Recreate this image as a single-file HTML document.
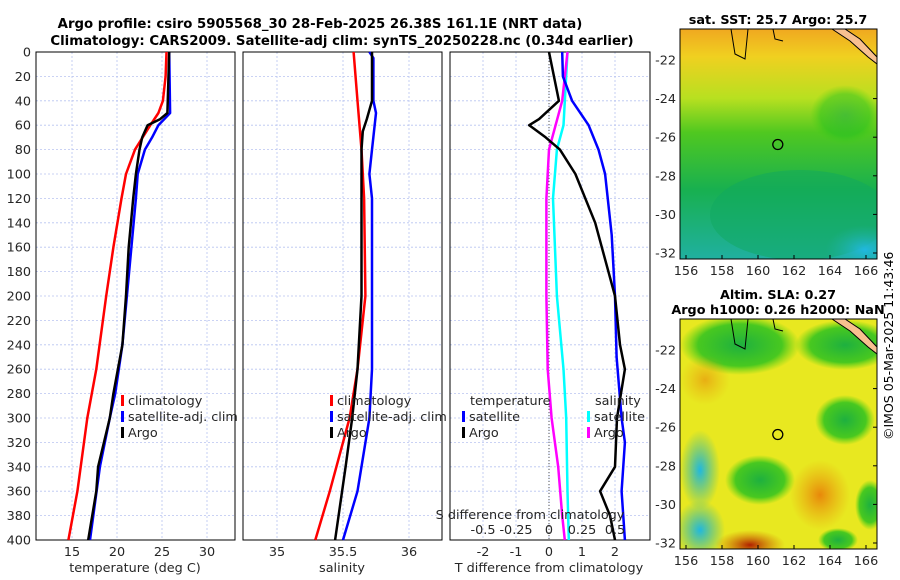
<!DOCTYPE html>
<html><head><meta charset="utf-8"><style>
body{margin:0;background:#fff;}
svg{display:block;font-family:"DejaVu Sans","Liberation Sans",sans-serif;}
</style></head><body>
<svg id="c" width="900" height="580" viewBox="0 0 900 580">
<defs>
<radialGradient id="gOr" cx="50%" cy="50%" r="50%"><stop offset="0" stop-color="#e8880a"/><stop offset="1" stop-color="#e8a010" stop-opacity="0"/></radialGradient>
<radialGradient id="gGr" cx="50%" cy="50%" r="50%"><stop offset="0" stop-color="#1eb040"/><stop offset="0.7" stop-color="#20c020" stop-opacity="0.8"/><stop offset="1" stop-color="#40d010" stop-opacity="0"/></radialGradient>
<radialGradient id="gBl" cx="50%" cy="50%" r="50%"><stop offset="0" stop-color="#20b8e0"/><stop offset="1" stop-color="#20b0a0" stop-opacity="0"/></radialGradient>
<radialGradient id="gRd" cx="50%" cy="50%" r="50%"><stop offset="0" stop-color="#b02000"/><stop offset="1" stop-color="#d06000" stop-opacity="0"/></radialGradient>
<linearGradient id="sstG" x1="0" y1="0" x2="0" y2="1"><stop offset="0" stop-color="#f0a820"/><stop offset="0.12" stop-color="#f0d020"/><stop offset="0.3" stop-color="#b8e020"/><stop offset="0.45" stop-color="#50c820"/><stop offset="0.7" stop-color="#18b050"/><stop offset="1" stop-color="#20b0a0"/></linearGradient>
<clipPath id="m1"><rect x="680" y="29" width="197" height="230"/></clipPath>
<clipPath id="m2"><rect x="680" y="319" width="197" height="230"/></clipPath>
</defs>
<text x="320" y="28" text-anchor="middle" font-size="13.3" font-weight="bold">Argo profile: csiro 5905568_30 28-Feb-2025 26.38S 161.1E (NRT data)</text>
<text x="342" y="45" text-anchor="middle" font-size="13.3" font-weight="bold">Climatology: CARS2009. Satellite-adj clim: synTS_20250228.nc (0.34d earlier)</text>
<g id="p1"></g>
<g id="p2"></g>
<g id="p3"></g>
<g id="map1" clip-path="url(#m1)">
<rect x="680" y="29" width="197" height="230" fill="url(#sstG)"/>
<ellipse cx="800" cy="215" rx="90" ry="45" fill="#10a860" opacity="0.5"/>
<ellipse cx="865" cy="250" rx="40" ry="25" fill="url(#gBl)"/>
<ellipse cx="845" cy="115" rx="35" ry="30" fill="url(#gGr)" opacity="0.6"/>
</g>
<g id="map2" clip-path="url(#m2)">
<rect x="680" y="319" width="197" height="230" fill="#e8e820"/>
<ellipse cx="740" cy="345" rx="60" ry="30" fill="url(#gGr)"/>
<ellipse cx="845" cy="345" rx="50" ry="25" fill="url(#gGr)"/>
<ellipse cx="845" cy="420" rx="30" ry="25" fill="url(#gGr)"/>
<ellipse cx="700" cy="470" rx="20" ry="40" fill="url(#gBl)"/>
<ellipse cx="760" cy="480" rx="35" ry="25" fill="url(#gGr)"/>
<ellipse cx="700" cy="530" rx="25" ry="30" fill="url(#gBl)"/>
<ellipse cx="750" cy="545" rx="35" ry="15" fill="url(#gRd)"/>
<ellipse cx="705" cy="380" rx="25" ry="25" fill="url(#gOr)" opacity="0.6"/>
<ellipse cx="820" cy="495" rx="30" ry="35" fill="url(#gOr)"/>
<ellipse cx="870" cy="505" rx="15" ry="25" fill="url(#gGr)"/>
<ellipse cx="838" cy="540" rx="20" ry="12" fill="url(#gGr)"/>
</g>
<g id="maps"></g>
<text transform="translate(893,440) rotate(-90)" font-size="12.5">©IMOS 05-Mar-2025 11:43:46</text>
</svg>
<script>
const depthTicks=[0,20,40,60,80,100,120,140,160,180,200,220,240,260,280,300,320,340,360,380,400];
const tTicks=[15,20,25,30];
const sTicks=[35,35.5,36];
const dTTicks=[-2,-1,0,1,2];
const dSTickLabels=["-0.5","-0.25","0","0.25","0.5"];
const dSTicks=[-0.5,-0.25,0,0.25,0.5];
const climTdepth=[0,20,40,50,60,80,100,120,160,200,260,300,360,400];
const climT=[25.5,25.4,25.1,24.6,23.7,22,21,20.5,19.6,18.8,17.7,16.7,15.6,14.6];
const satTdepth=[0,50,60,70,80,100,120,160,200,240,280,300,340,400];
const satT=[25.8,25.9,24.6,23.9,23.1,22.3,22.1,21.6,21.1,20.6,19.8,19.2,18.1,17];
const argoTdepth=[0,50,55,60,70,80,100,120,160,200,240,280,300,340,360,400];
const argoT=[25.8,25.6,24.8,23.4,22.8,22.5,22.1,21.8,21.3,21,20.6,19.6,19.2,17.9,17.7,16.8];
const climSdepth=[0,40,80,120,200,260,300,360,400];
const climS=[35.58,35.61,35.64,35.66,35.67,35.61,35.55,35.4,35.29];
const satSdepth=[0,5,40,50,80,100,120,200,260,300,360,400];
const satS=[35.7,35.73,35.73,35.75,35.72,35.7,35.72,35.72,35.72,35.7,35.61,35.5];
const argoSdepth=[0,40,55,65,80,200,260,300,340,400];
const argoS=[35.72,35.72,35.68,35.65,35.64,35.64,35.61,35.57,35.52,35.44];
const satdTdepth=[0,20,40,60,80,100,150,200,250,300,320,360,400];
const satdT=[0.4,0.42,0.7,1.2,1.5,1.7,1.9,2,2.05,2.2,2.3,2.2,2.3];
const argodTdepth=[0,40,55,60,70,80,100,140,180,200,240,260,300,340,360,380,400];
const argodT=[0,0.3,-0.3,-0.6,-0.1,0.33,0.8,1.4,1.8,2,2.15,2.3,2.06,2,1.55,1.85,2];
const satdSdepth=[0,60,80,120,200,260,300,360,400];
const satdS=[0.14,0.11,0.06,0.03,0.06,0.11,0.13,0.14,0.15];
const argodSdepth=[0,40,60,80,120,200,260,300,340,380,400];
const argodS=[0.14,0.1,0.05,0,-0.02,-0.02,-0.01,0.02,0.07,0.1,0.12];

const NS="http://www.w3.org/2000/svg";
function mk(tag,attrs,parent){const e=document.createElementNS(NS,tag);for(const k in attrs)e.setAttribute(k,attrs[k]);parent.appendChild(e);return e;}
const Y0=52,Y1=540;
const yD=d=>Y0+d*(Y1-Y0)/400;

function panel(g,x0,x1,xs,ticks,labels,showY){
  for(const d of depthTicks){const l=mk('line',{x1:x0,x2:x1,y1:yD(d),y2:yD(d),stroke:'#b8c4f0','stroke-width':0.8,'stroke-dasharray':'2,2'},g);
    
    }
  ticks.forEach((t,i)=>{const x=xs(t);const l=mk('line',{x1:x,x2:x,y1:Y0,y2:Y1,stroke:'#b8c4f0','stroke-width':0.8,'stroke-dasharray':'2,2'},g);
    
    
    const tx=mk('text',{x:x,y:556,'text-anchor':'middle','font-size':12.8,fill:'#262626'},g);tx.textContent=labels[i];
    
    });
  if(showY){for(const d of depthTicks){const tx=mk('text',{x:31,y:yD(d)+4.5,'text-anchor':'end','font-size':12.8,fill:'#262626'},g);tx.textContent=d;
    
    }}
  const r=mk('rect',{x:x0,y:Y0,width:x1-x0,height:Y1-Y0,fill:'none',stroke:'#000','stroke-width':1},g);
  
  
}
function line(g,ds,vs,xs,color,name){
  const pts=ds.map((d,i)=>xs(vs[i]).toFixed(1)+','+yD(d).toFixed(1)).join(' ');
  const p=mk('polyline',{points:pts,fill:'none',stroke:color,'stroke-width':2.5,'stroke-linejoin':'round'},g);
  
  
}
function txt(g,x,y,s,name,opt){const t=mk('text',Object.assign({x:x,y:y,'font-size':12.8,fill:'#262626'},opt||{}),g);t.textContent=s;
  
  return t;}
function leg(g,x,y,color,label){const r=mk('rect',{x:x,y:y-10,width:3,height:11,fill:color},g);
  
  
  txt(g,x+7,y,label,'legend-entry');}

const g1=document.getElementById('p1');
const xT=t=>72+(t-15)*9;
panel(g1,36,235,xT,tTicks,tTicks.map(String),true);
line(g1,climTdepth,climT,xT,'#ff0000','climatology-temp-line');
line(g1,satTdepth,satT,xT,'#0000ff','satellite-temp-line');
line(g1,argoTdepth,argoT,xT,'#000000','argo-temp-line');
leg(g1,121,405,'#ff0000','climatology');leg(g1,121,421,'#0000ff','satellite-adj. clim');leg(g1,121,437,'#000','Argo');
txt(g1,135,572,'temperature (deg C)','x-axis-title',{'text-anchor':'middle'});

const g2=document.getElementById('p2');
const xS=s=>343+(s-35.5)*132;
panel(g2,243,442,xS,sTicks,['35','35.5','36'],false);
line(g2,climSdepth,climS,xS,'#ff0000','climatology-salinity-line');
line(g2,satSdepth,satS,xS,'#0000ff','satellite-salinity-line');
line(g2,argoSdepth,argoS,xS,'#000000','argo-salinity-line');
leg(g2,330,405,'#ff0000','climatology');leg(g2,330,421,'#0000ff','satellite-adj. clim');leg(g2,330,437,'#000','Argo');
txt(g2,342,572,'salinity','x-axis-title',{'text-anchor':'middle'});

const g3=document.getElementById('p3');
const xd=t=>549+t*33;
const xdS=s=>xd(s*4);
panel(g3,450,650,xd,dTTicks,dTTicks.map(String),false);
const z=mk('line',{x1:xd(0),x2:xd(0),y1:Y0,y2:Y1,stroke:'#555','stroke-width':1,'stroke-dasharray':'1,2'},g3);


line(g3,satdSdepth,satdS,xdS,'#00ffff','satellite-salinity-diff-line');
line(g3,argodSdepth,argodS,xdS,'#ff00ff','argo-salinity-diff-line');
line(g3,satdTdepth,satdT,xd,'#0000ff','satellite-temp-diff-line');
line(g3,argodTdepth,argodT,xd,'#000000','argo-temp-diff-line');
txt(g3,470,405,'temperature','legend-title');
leg(g3,462,421,'#0000ff','satellite');leg(g3,462,437,'#000','Argo');
txt(g3,595,405,'salinity','legend-title');
leg(g3,587,421,'#00ffff','satellite');leg(g3,587,437,'#ff00ff','Argo');
txt(g3,530,519,'S difference from climatology','s-axis-title',{'text-anchor':'middle'});
dSTicks.forEach((s,i)=>txt(g3,xdS(s),534,dSTickLabels[i],'s-tick-label',{'text-anchor':'middle'}));
txt(g3,549,572,'T difference from climatology','x-axis-title',{'text-anchor':'middle'});

const gm=document.getElementById('maps');
const lonTicks=[156,158,160,162,164,166];
const latTicks=[-22,-24,-26,-28,-30,-32];
const xLon=l=>686+(l-156)*18;
function mapAxes(yTop,yBot,lat22,titleLines){
  const yLat=l=>lat22+(-22-l)*19.3;
  const r=mk('rect',{x:680,y:yTop,width:197,height:yBot-yTop,fill:'none',stroke:'#000'},gm);
  
  
  for(const l of lonTicks){txt(gm,xLon(l),yBot+16,String(l),'map-lon-label',{'text-anchor':'middle'});
    mk('line',{x1:xLon(l),x2:xLon(l),y1:yBot,y2:yBot-4,stroke:'#000'},gm);}
  for(const l of latTicks){txt(gm,676,yLat(l)+4.5,String(l),'map-lat-label',{'text-anchor':'end'});
    mk('line',{x1:877,x2:873,y1:yLat(l),y2:yLat(l),stroke:'#000'},gm);}
  titleLines.forEach((s,i)=>txt(gm,778,yTop-5-(titleLines.length-1-i)*15,s,'map-title',{'text-anchor':'middle','font-weight':'bold','font-size':12.8,fill:'#000'}));
  const c=mk('circle',{cx:xLon(161.1),cy:yLat(-26.38),r:5,fill:'none',stroke:'#000','stroke-width':1.3},gm);
  
  
  const p=mk('path',{d:`M832 ${yTop} L850 ${yTop+12} L868 ${yTop+28} L877 ${yTop+35} L877 ${yTop+28} L860 ${yTop+10} L845 ${yTop} Z`,fill:'#f8c090',stroke:'#000'},gm);
  
  
  mk('path',{d:`M731 ${yTop} L735 ${yTop+25} L745 ${yTop+30} L748 ${yTop} M773 ${yTop} L775 ${yTop+10} L783 ${yTop+12}`,fill:'none',stroke:'#000'},gm);
}
mapAxes(29,259,60,['sat. SST: 25.7 Argo: 25.7']);
mapAxes(319,549,350,['Altim. SLA: 0.27','Argo h1000: 0.26 h2000: NaN']);
</script>
</body></html>
